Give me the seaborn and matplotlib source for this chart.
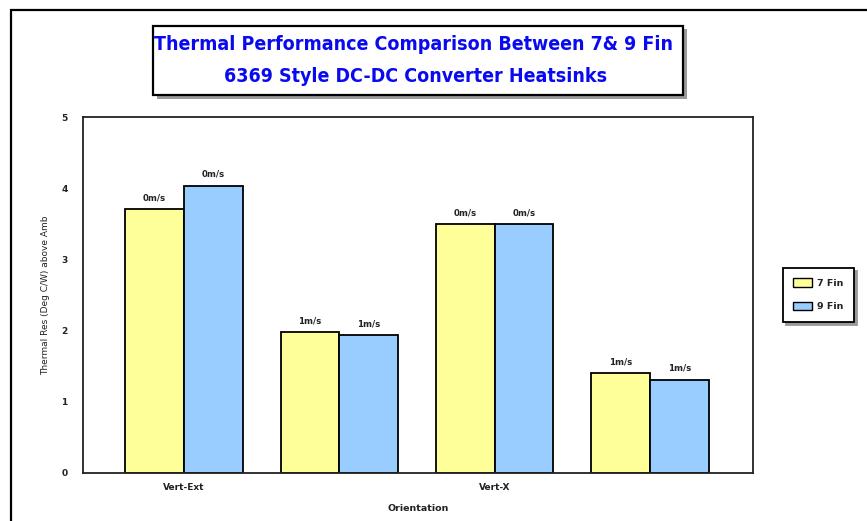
import matplotlib
matplotlib.use("Agg")
import matplotlib.pyplot as plt
from matplotlib.patches import Rectangle, Patch
import pandas as pd
import seaborn as sns

# Heatsink test data: thermal resistance per orientation / airflow case
categories = ["Vert-Ext 0m/s", "Vert-Ext 1m/s", "Vert-X 0m/s", "Vert-X 1m/s"]
tick_labels = ["Vert-Ext", "", "Vert-X", ""]
airflow = ["0m/s", "1m/s", "0m/s", "1m/s"]
fin7 = [3.71, 1.98, 3.50, 1.40]
fin9 = [4.04, 1.94, 3.50, 1.31]
series = ["7 Fin", "9 Fin"]
colors = ["#FFFF99", "#99CCFF"]

df = pd.DataFrame({
    "case": categories * 2,
    "fins": [series[0]] * 4 + [series[1]] * 4,
    "res": fin7 + fin9,
})

sns.set_style("white")
plt.rcParams["font.family"] = ["DejaVu Sans"]

W, H = 867, 521
fig = plt.figure(figsize=(W / 100, H / 100), dpi=100)
fig.patch.set_facecolor("white")


def fx(px):
    return px / W


def fy(py):
    return 1 - py / H


# outer frame of the chart sheet (runs off the right and bottom edges)
fig.patches.append(Rectangle((fx(11), fy(600)), fx(900), fy(10) - fy(600),
                             transform=fig.transFigure, fill=False,
                             edgecolor="black", linewidth=1.6, zorder=0))

ax = fig.add_axes([fx(83), fy(473), fx(753) - fx(83), fy(117.5) - fy(473)])

sns.barplot(data=df, x="case", y="res", hue="fins", order=categories,
            hue_order=series, palette=colors, width=0.755, gap=0,
            edgecolor="black", linewidth=1.3, saturation=1, ax=ax,
            legend=False)

for cont in ax.containers:
    ax.bar_label(cont, labels=airflow, padding=5, fontsize=6.2,
                 fontweight="bold", color="#222222")

ax.set_xlim(-0.650, 3.663)
ax.set_ylim(0, 5)
ax.set_yticks([0, 1, 2, 3, 4, 5])
ax.set_xticks(range(4))
ax.set_xticklabels(tick_labels)
ax.tick_params(axis="y", direction="in", length=7, width=1.2, pad=11,
               labelsize=6.5, color="black")
ax.tick_params(axis="x", length=0, pad=7, labelsize=6.5)
for lab in ax.get_yticklabels() + ax.get_xticklabels():
    lab.set_fontweight("bold")
    lab.set_color("#222222")
for sp in ax.spines.values():
    sp.set_visible(True)
    sp.set_color("#222222")
    sp.set_linewidth(1.3)

ax.set_xlabel("Orientation", fontsize=6.8, fontweight="bold", labelpad=9,
              color="#222222")
ax.set_ylabel("Thermal Res (Deg C/W) above Amb", fontsize=6.5,
              labelpad=8, color="#222222")

# title box with drop shadow
tx0, tx1, ty0, ty1 = 152.5, 683.5, 25.5, 95
fig.patches.append(Rectangle((fx(tx0 + 4), fy(ty1 + 4)), fx(tx1 - tx0),
                             fy(ty0) - fy(ty1), transform=fig.transFigure,
                             facecolor="#9a9a9a", edgecolor="none", zorder=1))
fig.patches.append(Rectangle((fx(tx0), fy(ty1)), fx(tx1 - tx0),
                             fy(ty0) - fy(ty1), transform=fig.transFigure,
                             facecolor="white", edgecolor="black",
                             linewidth=1.6, zorder=2))
title_kw = dict(ha="center", va="center", color="#0A0AF0", fontsize=14,
                fontweight="bold", fontstretch="condensed", zorder=3)
fig.text(fx(414), fy(45), "Thermal Performance Comparison Between 7& 9 Fin",
         **title_kw)
fig.text(fx(416), fy(77), "6369 Style DC-DC Converter Heatsinks", **title_kw)

# legend box with drop shadow
handles = [Patch(facecolor=c, edgecolor="black", linewidth=1.0) for c in colors]
leg = fig.legend(handles, series, loc="upper left",
                 bbox_to_anchor=(fx(783), fy(268)), frameon=True,
                 fancybox=False, shadow={"color": "#9a9a9a", "alpha": 1},
                 edgecolor="black", fontsize=6.8, handlelength=2.0,
                 handleheight=1.0, handletextpad=0.5, labelspacing=1.5,
                 borderpad=1.1, borderaxespad=0)
leg.get_frame().set_linewidth(1.3)
for t in leg.get_texts():
    t.set_fontweight("bold")
    t.set_color("#222222")

fig.savefig("out.png", dpi=100)
